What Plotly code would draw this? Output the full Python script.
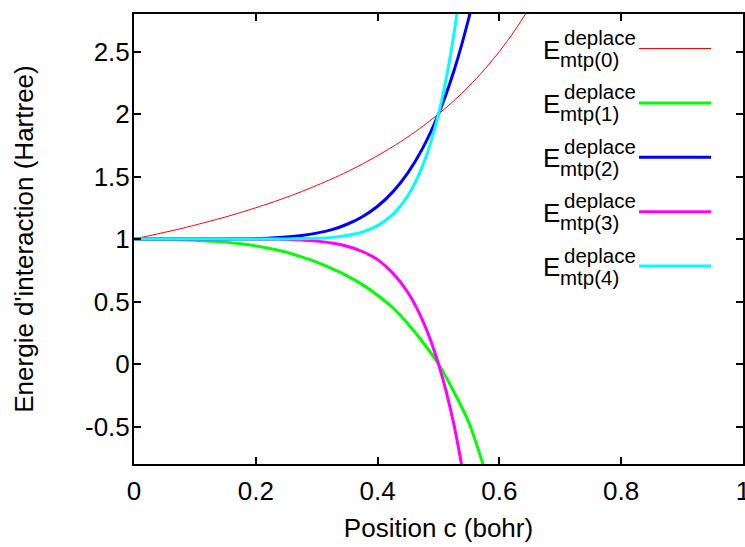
import plotly.graph_objects as go

# Position c (bohr)
c_values = [0.0, 0.025, 0.05, 0.075, 0.1, 0.125, 0.15, 0.175, 0.2, 0.225,
            0.25, 0.275, 0.3, 0.325, 0.35, 0.375, 0.4, 0.425, 0.45, 0.475,
            0.5, 0.525, 0.55, 0.575, 0.6, 0.625, 0.65, 0.675]

# Energies (None = beyond the plotted range)
e_mtp0 = [1.0, 1.026, 1.053, 1.081, 1.111, 1.143, 1.176, 1.212, 1.25, 1.290,
          1.333, 1.379, 1.429, 1.481, 1.538, 1.6, 1.667, 1.739, 1.818, 1.905,
          2.0, 2.105, 2.222, 2.353, 2.5, 2.667, 2.857, 3.077]
e_mtp1 = [1.0, 0.9995, 0.998, 0.995, 0.99, 0.983, 0.975, 0.962, 0.945, 0.922,
          0.895, 0.857, 0.815, 0.763, 0.705, 0.635, 0.55, 0.45, 0.32, 0.17,
          0.0, -0.22, -0.47, -0.83, -1.2, None, None, None]
e_mtp2 = [1.0, 1.0, 1.0, 1.0, 1.0001, 1.0002, 1.0007, 1.0018, 1.004, 1.008,
          1.016, 1.028, 1.047, 1.075, 1.118, 1.178, 1.262, 1.377, 1.531, 1.735,
          2.0, 2.34, 2.772, 3.313, None, None, None, None]
e_mtp3 = [1.0, 1.0, 1.0, 1.0, 1.0, 1.0, 1.0, 1.0, 0.999, 0.998,
          0.996, 0.992, 0.983, 0.968, 0.942, 0.90, 0.835, 0.727, 0.57, 0.337,
          0.0, -0.477, -1.144, None, None, None, None, None]
e_mtp4 = [1.0, 1.0, 1.0, 1.0, 1.0, 1.0, 1.0, 1.0, 1.0, 1.0,
          1.001, 1.003, 1.006, 1.013, 1.028, 1.056, 1.107, 1.197, 1.349, 1.599,
          2.0, 2.629, 3.594, None, None, None, None, None]

series_orders = ["0", "1", "2", "3", "4"]
series_values = [e_mtp0, e_mtp1, e_mtp2, e_mtp3, e_mtp4]
series_colors = ["#ff0000", "#00ff00", "#0000ff", "#ff00ff", "#00ffff"]
series_widths = [1, 3, 3, 3, 3]

x_tickvals = [0, 0.2, 0.4, 0.6, 0.8, 1.0]
x_ticktext = ["0", "0.2", "0.4", "0.6", "0.8", "1"]
y_tickvals = [-0.5, 0, 0.5, 1, 1.5, 2, 2.5]
y_ticktext = ["-0.5", "0", "0.5", "1", "1.5", "2", "2.5"]

W, H = 745, 547
L, R, T, B = 134, 743, 14, 464

fig = go.Figure()
for order, vals, col, w in zip(series_orders, series_values, series_colors, series_widths):
    fig.add_trace(go.Scatter(
        x=c_values, y=vals, mode="lines",
        line=dict(color=col, width=w, shape="spline", smoothing=0.8),
        name="E mtp(%s)" % order, connectgaps=False, showlegend=False,
        hoverinfo="skip"))

def px(xp):
    return (xp - L) / (R - L)

def py(yp):
    return (B - yp) / (B - T)

font_main = "Liberation Sans, Arial, Helvetica, sans-serif"
annotations = []
shapes = []
for i, (order, col, w) in enumerate(zip(series_orders, series_colors, series_widths)):
    yc = 48.5 + 54.4 * i
    annotations.append(dict(x=px(541), y=py(yc + 1), xref="paper", yref="paper",
                            text="E", showarrow=False, xanchor="left", yanchor="middle",
                            font=dict(size=26, family=font_main, color="black")))
    annotations.append(dict(x=px(562), y=py(yc - 11), xref="paper", yref="paper",
                            text="deplace", showarrow=False, xanchor="left", yanchor="middle",
                            font=dict(size=20.5, family=font_main, color="black")))
    annotations.append(dict(x=px(558), y=py(yc + 11), xref="paper", yref="paper",
                            text="mtp(%s)" % order, showarrow=False, xanchor="left", yanchor="middle",
                            font=dict(size=20.5, family=font_main, color="black")))
    shapes.append(dict(type="line", xref="paper", yref="paper",
                       x0=px(639), x1=px(711), y0=py(yc), y1=py(yc),
                       line=dict(color=col, width=w)))

fig.update_layout(
    width=W, height=H,
    margin=dict(l=L, r=W - R, t=T, b=H - B, autoexpand=False),
    paper_bgcolor="white", plot_bgcolor="white",
    font=dict(family=font_main, size=26, color="black"),
    showlegend=False,
    annotations=annotations, shapes=shapes,
    xaxis=dict(range=[0, 1], tickvals=x_tickvals, ticktext=x_ticktext,
               ticks="inside", ticklen=7, tickwidth=2, tickcolor="black",
               showline=True, linecolor="black", linewidth=2, mirror="ticks",
               showgrid=False, zeroline=False, automargin=False,
               ticklabeloverflow="allow", ticklabelstandoff=3,
               tickfont=dict(size=26),
               title=dict(text="Position c (bohr)", font=dict(size=26), standoff=14)),
    yaxis=dict(range=[-0.8, 2.8], tickvals=y_tickvals, ticktext=y_ticktext,
               ticks="inside", ticklen=7, tickwidth=2, tickcolor="black",
               showline=True, linecolor="black", linewidth=2, mirror="ticks",
               showgrid=False, zeroline=False, automargin=False,
               ticklabeloverflow="allow", ticklabelstandoff=-3,
               tickfont=dict(size=26),
               title=dict(text="Energie d'interaction (Hartree)", font=dict(size=26), standoff=44)),
)

fig.write_html("out.html", config={"displayModeBar": False},
               post_script="document.body.style.margin='0';document.body.style.overflow='hidden';")
